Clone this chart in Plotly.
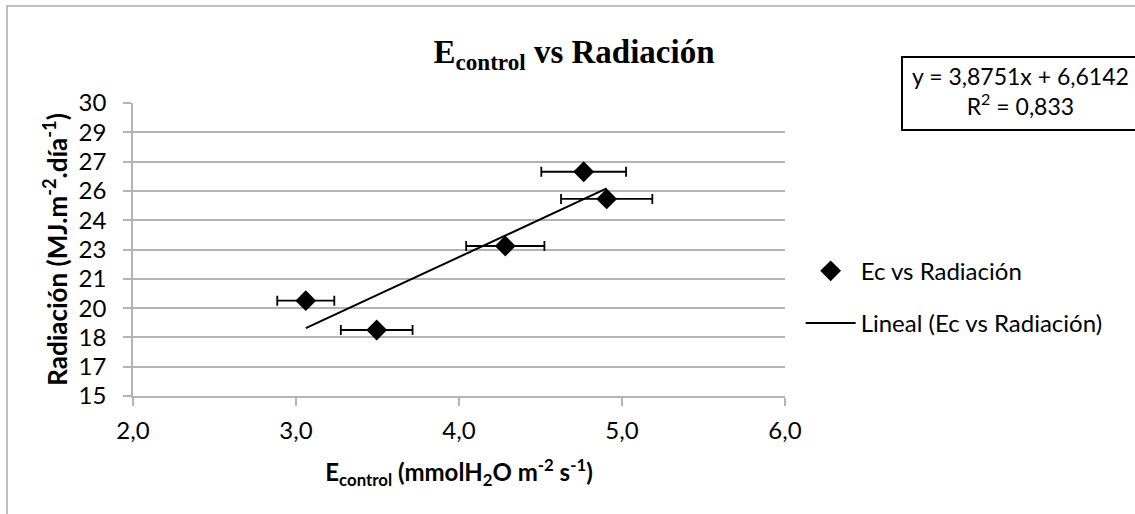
import plotly.graph_objects as go

# Data
e_control = [3.06, 3.495, 4.284, 4.765, 4.906]
radiacion = [19.88, 18.38, 22.68, 26.48, 25.09]
e_err = [0.175, 0.22, 0.24, 0.26, 0.28]

slope = 3.8751
intercept = 6.6142
r2_text = "0,833"

y_tickvals = [15, 16.5, 18, 19.5, 21, 22.5, 24, 25.5, 27, 28.5, 30]
y_ticktext = ["15", "17", "18", "20", "21", "23", "24", "26", "27", "29", "30"]
x_tickvals = [2, 3, 4, 5, 6]
x_ticktext = ["2,0", "3,0", "4,0", "5,0", "6,0"]

trend_x = [min(e_control), max(e_control)]
trend_y = [slope * v + intercept for v in trend_x]

FONT = "Lato"
GRID = "#b4b4b4"

fig = go.Figure()
fig.add_trace(go.Scatter(
    x=e_control, y=radiacion, mode="markers", name="Ec vs Radiación",
    marker=dict(symbol="diamond", size=16, color="black"),
    error_x=dict(type="data", array=e_err, color="black", thickness=1.8, width=5),
    legendgroup="a",
))
fig.add_trace(go.Scatter(
    x=trend_x, y=trend_y, mode="lines", name="Lineal (Ec vs Radiación)",
    line=dict(color="black", width=2),
    legendgroup="b",
))

fig.update_layout(
    width=1135, height=514,
    margin=dict(l=133, r=350, t=103, b=118),
    paper_bgcolor="white", plot_bgcolor="white",
    font=dict(family=FONT, size=24, color="black"),
    showlegend=True,
    legend=dict(x=1.024, y=0.337, xanchor="left", yanchor="middle",
                font=dict(size=24, family=FONT), itemwidth=50,
                tracegroupgap=18, bgcolor="rgba(0,0,0,0)"),
    title=dict(text="E<sub>control</sub> vs Radiación",
               font=dict(family="Liberation Serif", size=33, color="black", weight="bold"),
               x=(574 - 133) / 652, xref="paper", xanchor="center",
               y=0.9, yref="container", yanchor="middle"),
)
fig.update_xaxes(
    range=[2, 6], tickvals=x_tickvals, ticktext=x_ticktext,
    showgrid=False, showline=True, linecolor=GRID, linewidth=1.5,
    ticks="outside", ticklen=8, tickcolor=GRID, tickwidth=1.5,
    zeroline=False, ticklabelstandoff=4,
    tickfont=dict(size=24, family=FONT),
    title=dict(text="<b>E<sub>control</sub> (mmolH<sub>2</sub>O m<sup>-2</sup> s<sup>-1</sup>)</b>",
               font=dict(size=24, family=FONT), standoff=22),
)
fig.update_yaxes(
    range=[15, 30], tickvals=y_tickvals, ticktext=y_ticktext,
    showgrid=True, gridcolor=GRID, gridwidth=1.5,
    showline=True, linecolor=GRID, linewidth=1.5,
    ticks="outside", ticklen=8, tickcolor=GRID, tickwidth=1.5,
    zeroline=False, ticklabelstandoff=12,
    tickfont=dict(size=24, family=FONT),
    title=dict(text="<b>Radiación (MJ.m<sup>-2</sup>.día<sup>-1</sup>)</b>",
               font=dict(size=26, family=FONT), standoff=4),
)

# chart outer border
fig.add_shape(type="rect", xref="paper", yref="paper",
              x0=(7 - 133) / 652, x1=(1140 - 133) / 652,
              y0=(396 - 520) / 293, y1=(396 - 6) / 293,
              line=dict(color="#aaaaaa", width=1.5), layer="below")

# equation box
fig.add_shape(type="rect", xref="paper", yref="paper",
              x0=(902 - 133) / 652, x1=(1140 - 133) / 652,
              y0=(396 - 130) / 293, y1=(396 - 57) / 293,
              line=dict(color="black", width=2), fillcolor="white")
fig.add_annotation(
    xref="paper", yref="paper", x=(1021 - 133) / 652, y=(396 - 91) / 293,
    xanchor="center", yanchor="middle", showarrow=False, align="center",
    text=f"y = {slope:.4f}x + {intercept:.4f}".replace(".", ",") + f"<br>R<sup>2</sup> = {r2_text}",
    font=dict(size=23, family=FONT, color="black"),
)

fig.write_html("out.html")
